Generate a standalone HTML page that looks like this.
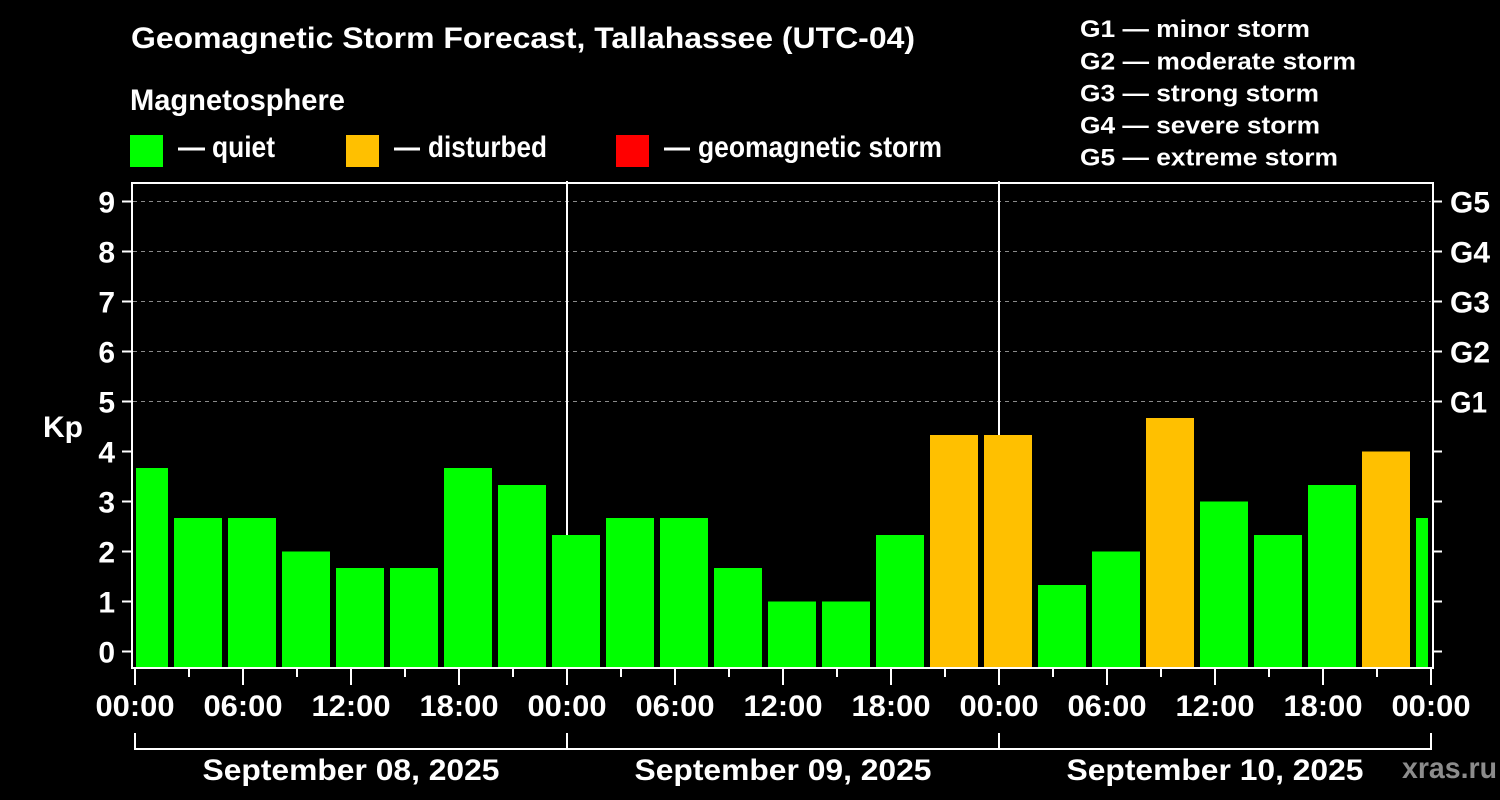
<!DOCTYPE html>
<html><head><meta charset="utf-8"><style>
html,body{margin:0;padding:0;background:#000;}
svg{display:block;}
text{font-family:"Liberation Sans",Arial,sans-serif;font-weight:bold;fill:#fff;}
</style></head><body>
<svg width="1500" height="800" viewBox="0 0 1500 800" xmlns="http://www.w3.org/2000/svg">
<rect x="0" y="0" width="1500" height="800" fill="#000"/>
<!-- title & legend -->
<text x="131" y="48" font-size="30" textLength="784" lengthAdjust="spacingAndGlyphs">Geomagnetic Storm Forecast, Tallahassee (UTC-04)</text>
<text x="130" y="110" font-size="30" textLength="215" lengthAdjust="spacingAndGlyphs">Magnetosphere</text>
<rect x="130" y="135" width="33" height="32" fill="#00ff00"/>
<rect x="346" y="135" width="33" height="32" fill="#ffc000"/>
<rect x="616" y="135" width="33" height="32" fill="#ff0000"/>
<text x="178" y="157" font-size="30" textLength="27" lengthAdjust="spacingAndGlyphs">—</text>
<text x="212" y="157" font-size="30" textLength="63" lengthAdjust="spacingAndGlyphs">quiet</text>
<text x="394" y="157" font-size="30" textLength="26" lengthAdjust="spacingAndGlyphs">—</text>
<text x="428" y="157" font-size="30" textLength="119" lengthAdjust="spacingAndGlyphs">disturbed</text>
<text x="664" y="157" font-size="30" textLength="26" lengthAdjust="spacingAndGlyphs">—</text>
<text x="698" y="157" font-size="30" textLength="244" lengthAdjust="spacingAndGlyphs">geomagnetic storm</text>
<text x="1080" y="37" font-size="24" textLength="230" lengthAdjust="spacingAndGlyphs">G1 — minor storm</text>
<text x="1080" y="69.5" font-size="24" textLength="276" lengthAdjust="spacingAndGlyphs">G2 — moderate storm</text>
<text x="1080" y="101.5" font-size="24" textLength="239" lengthAdjust="spacingAndGlyphs">G3 — strong storm</text>
<text x="1080" y="133.5" font-size="24" textLength="240" lengthAdjust="spacingAndGlyphs">G4 — severe storm</text>
<text x="1080" y="165.5" font-size="24" textLength="258" lengthAdjust="spacingAndGlyphs">G5 — extreme storm</text>

<!-- grid -->
<g stroke="#8a8a8a" stroke-width="1" stroke-dasharray="4,4">
<line x1="133" y1="201.5" x2="1431" y2="201.5"/>
<line x1="133" y1="251.5" x2="1431" y2="251.5"/>
<line x1="133" y1="301.5" x2="1431" y2="301.5"/>
<line x1="133" y1="351.5" x2="1431" y2="351.5"/>
<line x1="133" y1="401.5" x2="1431" y2="401.5"/>
</g>
<!-- day dividers -->
<rect x="566" y="181" width="2" height="487" fill="#fff"/>
<rect x="998" y="181" width="2" height="487" fill="#fff"/>

<!-- bars -->
<g fill="#00ff00">
<rect x="136" y="468" width="32" height="199"/>
<rect x="174" y="518" width="48" height="149"/>
<rect x="228" y="518" width="48" height="149"/>
<rect x="282" y="551.5" width="48" height="115.5"/>
<rect x="336" y="568" width="48" height="99"/>
<rect x="390" y="568" width="48" height="99"/>
<rect x="444" y="468" width="48" height="199"/>
<rect x="498" y="485" width="48" height="182"/>
<rect x="552" y="535" width="48" height="132"/>
<rect x="606" y="518" width="48" height="149"/>
<rect x="660" y="518" width="48" height="149"/>
<rect x="714" y="568" width="48" height="99"/>
<rect x="768" y="601.5" width="48" height="65.5"/>
<rect x="822" y="601.5" width="48" height="65.5"/>
<rect x="876" y="535" width="48" height="132"/>
<rect x="1038" y="585" width="48" height="82"/>
<rect x="1092" y="551.5" width="48" height="115.5"/>
<rect x="1200" y="501.5" width="48" height="165.5"/>
<rect x="1254" y="535" width="48" height="132"/>
<rect x="1308" y="485" width="48" height="182"/>
<rect x="1416" y="518" width="12" height="149"/>
</g>
<g fill="#ffc000">
<rect x="930" y="435" width="48" height="232"/>
<rect x="984" y="435" width="48" height="232"/>
<rect x="1146" y="418" width="48" height="249"/>
<rect x="1362" y="451.5" width="48" height="215.5"/>
</g>

<!-- frame -->
<g fill="#fff">
<rect x="131" y="182" width="2" height="487"/>
<rect x="131" y="182" width="1303" height="2"/>
<rect x="1432" y="182" width="2" height="487"/>
<rect x="131" y="667" width="1303" height="2"/>
</g>
<!-- left & right ticks -->
<g fill="#fff">
<rect x="122" y="200.5" width="9" height="2"/><rect x="1434" y="200.5" width="8" height="2"/>
<rect x="122" y="250.5" width="9" height="2"/><rect x="1434" y="250.5" width="8" height="2"/>
<rect x="122" y="300.5" width="9" height="2"/><rect x="1434" y="300.5" width="8" height="2"/>
<rect x="122" y="350.5" width="9" height="2"/><rect x="1434" y="350.5" width="8" height="2"/>
<rect x="122" y="400.5" width="9" height="2"/><rect x="1434" y="400.5" width="8" height="2"/>
<rect x="122" y="450.5" width="9" height="2"/><rect x="1434" y="450.5" width="8" height="2"/>
<rect x="122" y="500.5" width="9" height="2"/><rect x="1434" y="500.5" width="8" height="2"/>
<rect x="122" y="550.5" width="9" height="2"/><rect x="1434" y="550.5" width="8" height="2"/>
<rect x="122" y="600.5" width="9" height="2"/><rect x="1434" y="600.5" width="8" height="2"/>
<rect x="122" y="650.5" width="9" height="2"/><rect x="1434" y="650.5" width="8" height="2"/>
</g>
<!-- y labels -->
<g font-size="30" text-anchor="end">
<text x="115" y="212.5">9</text>
<text x="115" y="262.5">8</text>
<text x="115" y="312.5">7</text>
<text x="115" y="362.5">6</text>
<text x="115" y="412.5">5</text>
<text x="115" y="462.5">4</text>
<text x="115" y="512.5">3</text>
<text x="115" y="562.5">2</text>
<text x="115" y="612.5">1</text>
<text x="115" y="662.5">0</text>
</g>
<text x="43" y="437" font-size="30" textLength="40" lengthAdjust="spacingAndGlyphs">Kp</text>
<g font-size="30">
<text x="1450" y="212.5" textLength="40" lengthAdjust="spacingAndGlyphs">G5</text>
<text x="1450" y="262.5" textLength="40" lengthAdjust="spacingAndGlyphs">G4</text>
<text x="1450" y="312.5" textLength="40" lengthAdjust="spacingAndGlyphs">G3</text>
<text x="1450" y="362.5" textLength="40" lengthAdjust="spacingAndGlyphs">G2</text>
<text x="1450" y="412.5" textLength="37" lengthAdjust="spacingAndGlyphs">G1</text>
</g>

<!-- x ticks -->
<g fill="#fff">
<rect x="134" y="669" width="2" height="16"/>
<rect x="188" y="669" width="2" height="8"/>
<rect x="242" y="669" width="2" height="16"/>
<rect x="296" y="669" width="2" height="8"/>
<rect x="350" y="669" width="2" height="16"/>
<rect x="404" y="669" width="2" height="8"/>
<rect x="458" y="669" width="2" height="16"/>
<rect x="512" y="669" width="2" height="8"/>
<rect x="566" y="669" width="2" height="16"/>
<rect x="620" y="669" width="2" height="8"/>
<rect x="674" y="669" width="2" height="16"/>
<rect x="728" y="669" width="2" height="8"/>
<rect x="782" y="669" width="2" height="16"/>
<rect x="836" y="669" width="2" height="8"/>
<rect x="890" y="669" width="2" height="16"/>
<rect x="944" y="669" width="2" height="8"/>
<rect x="998" y="669" width="2" height="16"/>
<rect x="1052" y="669" width="2" height="8"/>
<rect x="1106" y="669" width="2" height="16"/>
<rect x="1160" y="669" width="2" height="8"/>
<rect x="1214" y="669" width="2" height="16"/>
<rect x="1268" y="669" width="2" height="8"/>
<rect x="1322" y="669" width="2" height="16"/>
<rect x="1376" y="669" width="2" height="8"/>
<rect x="1430" y="669" width="2" height="16"/>
</g>
<g font-size="30" text-anchor="middle">
<text x="135" y="716" textLength="79" lengthAdjust="spacingAndGlyphs">00:00</text>
<text x="243" y="716" textLength="79" lengthAdjust="spacingAndGlyphs">06:00</text>
<text x="351" y="716" textLength="79" lengthAdjust="spacingAndGlyphs">12:00</text>
<text x="459" y="716" textLength="79" lengthAdjust="spacingAndGlyphs">18:00</text>
<text x="567" y="716" textLength="79" lengthAdjust="spacingAndGlyphs">00:00</text>
<text x="675" y="716" textLength="79" lengthAdjust="spacingAndGlyphs">06:00</text>
<text x="783" y="716" textLength="79" lengthAdjust="spacingAndGlyphs">12:00</text>
<text x="891" y="716" textLength="79" lengthAdjust="spacingAndGlyphs">18:00</text>
<text x="999" y="716" textLength="79" lengthAdjust="spacingAndGlyphs">00:00</text>
<text x="1107" y="716" textLength="79" lengthAdjust="spacingAndGlyphs">06:00</text>
<text x="1215" y="716" textLength="79" lengthAdjust="spacingAndGlyphs">12:00</text>
<text x="1323" y="716" textLength="79" lengthAdjust="spacingAndGlyphs">18:00</text>
<text x="1431" y="716" textLength="79" lengthAdjust="spacingAndGlyphs">00:00</text>
</g>
<!-- date brackets -->
<g fill="#fff">
<rect x="134" y="748" width="1298" height="2"/>
<rect x="134" y="733" width="2" height="17"/>
<rect x="566" y="733" width="2" height="17"/>
<rect x="998" y="733" width="2" height="17"/>
<rect x="1430" y="733" width="2" height="17"/>
</g>
<g font-size="30" text-anchor="middle">
<text x="351" y="780" textLength="297" lengthAdjust="spacingAndGlyphs">September 08, 2025</text>
<text x="783" y="780" textLength="297" lengthAdjust="spacingAndGlyphs">September 09, 2025</text>
<text x="1215" y="780" textLength="297" lengthAdjust="spacingAndGlyphs">September 10, 2025</text>
</g>
<text x="1402" y="778" font-size="30" textLength="95" lengthAdjust="spacingAndGlyphs" style="fill:#8c8c8c">xras.ru</text>
</svg>
</body></html>
